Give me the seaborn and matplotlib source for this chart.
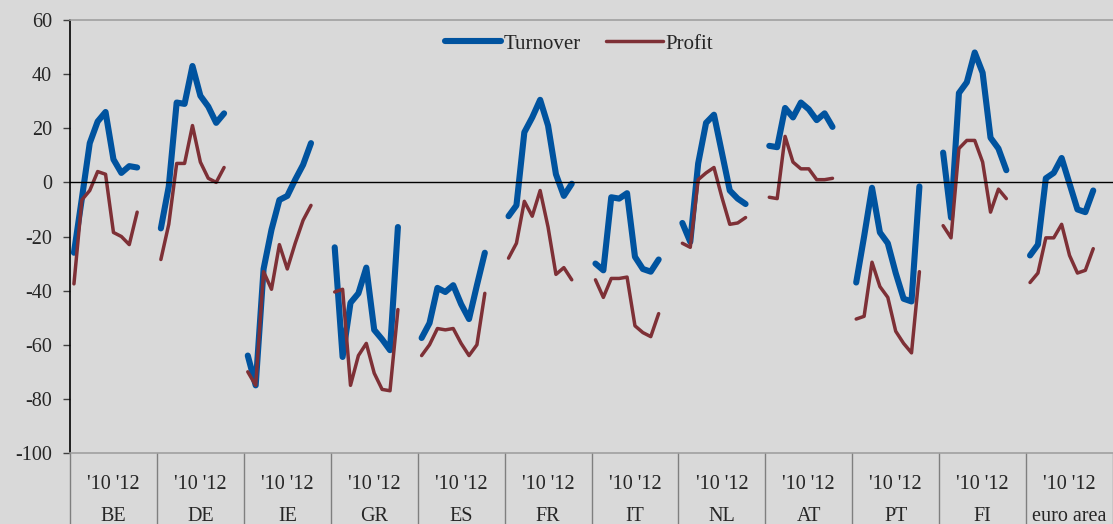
import numpy as np
import pandas as pd
import seaborn as sns
import matplotlib.pyplot as plt
import matplotlib.transforms as mtransforms
from matplotlib.lines import Line2D

# groups and values (9 survey points per country)
countries = ["BE", "DE", "IE", "GR", "ES", "FR", "IT", "NL", "AT", "PT", "FI", "euro area"]
period_label = "'10 '12"

turnover = [
    [-26, -6, 14.5, 22.5, 26, 8.5, 3.5, 6, 5.5],
    [-17, -1.5, 29.5, 29, 43, 32, 28, 22, 25.5],
    [-64, -75, -32, -17.5, -6.5, -5, 1, 6.5, 14.5],
    [-24, -64.5, -44.5, -41, -31.5, -54.5, -58, -62, -16.5],
    [-57.5, -52, -39, -40.5, -38, -45, -50.5, -38, -26],
    [-12.5, -8.5, 18.5, 24, 30.5, 21, 3, -5, -0.5],
    [-30, -32.5, -5.5, -6, -4, -27.5, -32, -33, -28.5],
    [-15, -22, 7, 22, 25, 11, -3, -6, -8],
    [13.5, 13, 27.5, 24, 29.5, 27, 23, 25.5, 20.5],
    [-37, -20, -2, -18.5, -22.5, -33.5, -43, -44, -1.5],
    [11, -13, 33, 37, 48, 40.5, 16.5, 12.5, 4.5],
    [-27, -23, 1.5, 3.5, 9, -0.5, -10, -11, -3],
]
profit = [
    [-37.5, -6.5, -3, 4, 3, -18.5, -20, -23, -11],
    [-28.5, -15.5, 7, 7, 21, 7.5, 1.5, 0, 5.5],
    [-70, -75, -33, -39.5, -23, -32, -22.5, -14, -8.5],
    [-40.5, -39.5, -75, -64, -59.5, -70.5, -76.5, -77, -47],
    [-64, -60, -54, -54.5, -54, -59.5, -64, -60, -41],
    [-28, -22.5, -7, -12.5, -3, -16.5, -34, -31.5, -36],
    [-36, -42.5, -35.5, -35.5, -35, -53, -55.5, -57, -48.5],
    [-22.5, -24, 1, 3.5, 5.5, -5.5, -15.5, -15, -13],
    [-5.5, -6, 17, 7.5, 5, 5, 1, 1, 1.5],
    [-50.5, -49.5, -29.5, -38.5, -42.5, -55, -59.5, -63, -33],
    [-16, -20.5, 12.5, 15.5, 15.5, 7.5, -11, -2.5, -6],
    [-37, -33.5, -20.5, -20.5, -15.5, -27, -33.5, -32.5, -24.5],
]

slots = 11  # 9 points + 2 empty slots per country block
rows = []
for g, c in enumerate(countries):
    for i in range(len(turnover[g])):
        x = g * slots + i + 0.5
        rows.append({"country": c, "x": x, "series": "Turnover", "value": turnover[g][i]})
        rows.append({"country": c, "x": x, "series": "Profit", "value": profit[g][i]})
df = pd.DataFrame(rows)

sns.set_theme(style="white")
plt.rcParams["font.family"] = ["Liberation Serif", "DejaVu Serif"]
plt.rcParams["axes.unicode_minus"] = False

bg = "#D9D9D9"
blue = "#00539F"
red = "#7E3036"

fig = plt.figure(figsize=(11.13, 5.24), dpi=100, facecolor=bg)
ax = fig.add_axes([70 / 1113, 1 - 453 / 524, 1043 / 1113, 433 / 524])
ax.set_facecolor(bg)

sns.lineplot(data=df[df.series == "Turnover"], x="x", y="value", units="country",
             estimator=None, color=blue, lw=4.4, ax=ax,
             solid_capstyle="round", solid_joinstyle="round")
sns.lineplot(data=df[df.series == "Profit"], x="x", y="value", units="country",
             estimator=None, color=red, lw=2.5, ax=ax,
             solid_capstyle="round", solid_joinstyle="round")

ax.set_xlim(0, slots * len(countries))
ax.set_ylim(-100, 60)
ax.set_yticks(np.arange(-100, 61, 20))
ax.set_xticks([])
ax.set_xlabel("")
ax.set_ylabel("")
ax.tick_params(axis="y", direction="out", length=5, width=1, color="#404040",
               pad=8, labelsize=14.5, left=True)
ax.axhline(0, color="black", lw=1)

for side in ["top", "bottom"]:
    ax.spines[side].set_color("#A0A0A0")
    ax.spines[side].set_linewidth(1.2)
ax.spines["right"].set_visible(False)
ax.spines["left"].set_color("black")
ax.spines["left"].set_linewidth(1.2)

# category labels and separators below the axis
trans = mtransforms.blended_transform_factory(ax.transData, ax.transAxes)
for g, c in enumerate(countries):
    xc = g * slots + slots / 2
    ax.text(xc, -0.072, period_label, transform=trans, ha="center", va="center", fontsize=14.5)
    ax.text(xc, -0.147, c, transform=trans, ha="center", va="center", fontsize=14.5)
for g in range(len(countries) + 1):
    ax.plot([g * slots, g * slots], [0, -0.17], transform=trans, color="#7F7F7F",
            lw=1, clip_on=False)

handles = [Line2D([], [], color=blue, lw=4.4, solid_capstyle="round"),
           Line2D([], [], color=red, lw=2.5, solid_capstyle="round")]
ax.legend(handles, ["Turnover", "Profit"], loc="center", bbox_to_anchor=(0.488, 0.945),
          ncol=2, frameon=False, fontsize=15, handlelength=2.7, handletextpad=0.15,
          columnspacing=1.2)

fig.savefig("out.png", dpi=100, facecolor=bg)
